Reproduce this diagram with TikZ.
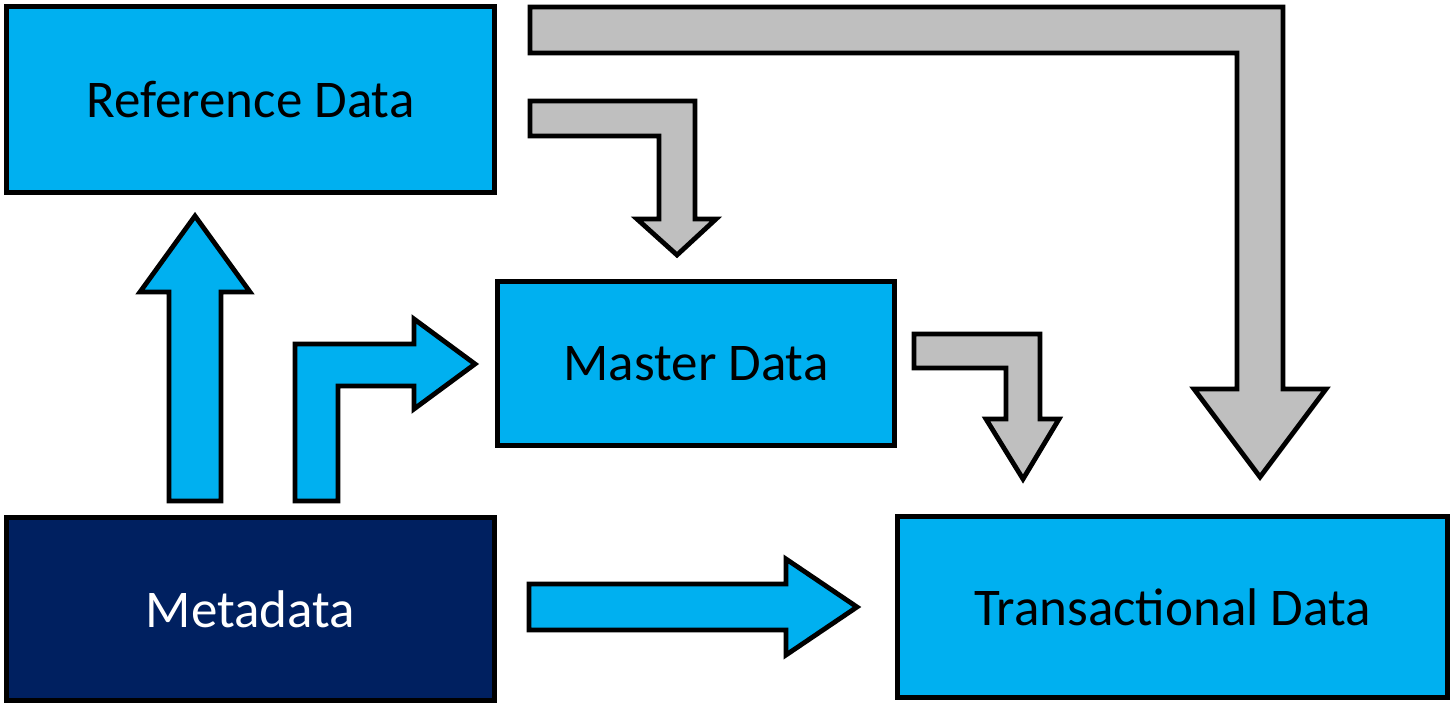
\documentclass[tikz,border=0pt]{standalone}
\usepackage{fontspec}
\setmainfont{Carlito}
\definecolor{dataBlue}{HTML}{00B0F0}
\definecolor{dataNavy}{HTML}{002060}
\definecolor{flowGray}{HTML}{BFBFBF}
\tikzset{
box/.style={draw=black, line width=2.5pt, rectangle, fill=dataBlue,
  font=\fontsize{26.5}{30}\selectfont, inner sep=0pt},
blueflow/.style={draw=black, line width=2.4pt, fill=dataBlue},
grayflow/.style={draw=black, line width=2.4pt, fill=flowGray},
}

\begin{document}
\begin{tikzpicture}[x=0.5pt, y=-0.5pt]
        \useasboundingbox (0,0) rectangle (1453,706);

        \node[box, minimum width=244pt, minimum height=93pt] (ref) at (250.5,99.5) {Reference Data};
        \node[box, minimum width=198.5pt, minimum height=82pt] (master) at (696,363.5) {Master Data};
        \node[box, fill=dataNavy, text=white, minimum width=244pt, minimum height=91.5pt] (meta) at (250.5,609) {Metadata};
        \node[box, minimum width=275pt, minimum height=90.5pt] (trans) at (1172.5,607) {Transactional Data};

        % metadata feeds the others
        \draw[blueflow] (169,501) -- (221,501) -- (221,292) -- (250,292) -- (195,216) -- (140,292) -- (169,292) -- cycle;
        \draw[blueflow] (295,501) -- (338,501) -- (338,386) -- (414,386) -- (414,409) -- (475,364) -- (414,319) -- (414,344) -- (295,344) -- cycle;
        \draw[blueflow] (529,630) -- (786,630) -- (786,655) -- (857,607) -- (786,559) -- (786,584) -- (529,584) -- cycle;

        % reference and master data flows
        \draw[grayflow] (530,101) -- (695,101) -- (695,219) -- (716,219) -- (677,255) -- (637,219) -- (659,219) -- (659,136) -- (530,136) -- cycle;
        \draw[grayflow] (914,334) -- (1040,334) -- (1040,419) -- (1059,419) -- (1023,479) -- (986,419) -- (1006,419) -- (1006,368) -- (914,368) -- cycle;
        \draw[grayflow] (530,7) -- (1283,7) -- (1283,389) -- (1326,389) -- (1260,477) -- (1194,389) -- (1237,389) -- (1237,53) -- (530,53) -- cycle;
    \end{tikzpicture}
\end{document}
